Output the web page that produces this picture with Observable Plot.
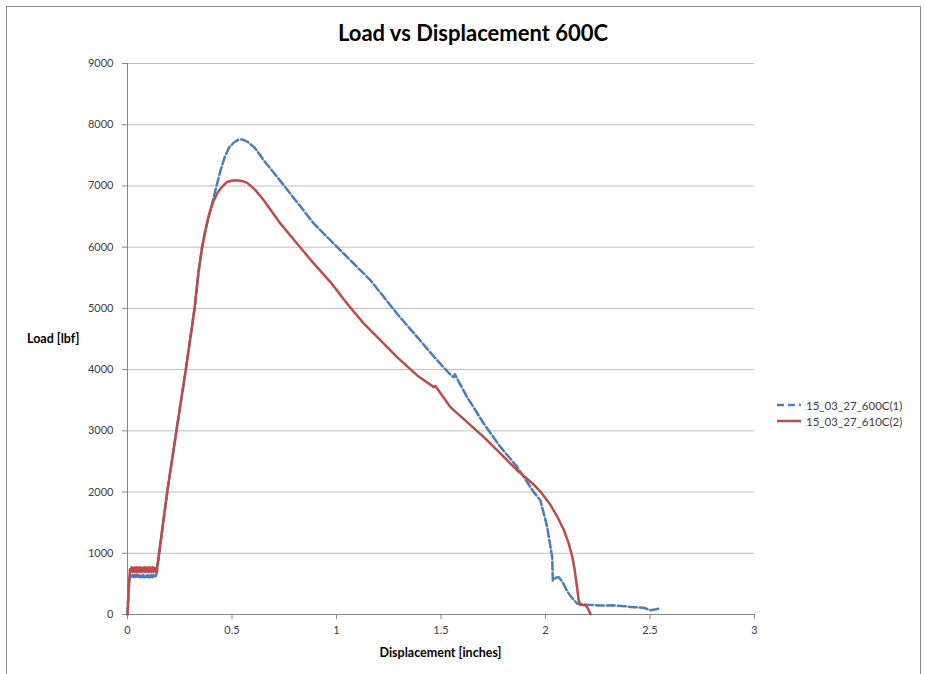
<!DOCTYPE html>
<html>
<head>
<meta charset="utf-8">
<script src="https://cdn.jsdelivr.net/npm/d3@7"></script>
<script src="https://cdn.jsdelivr.net/npm/@observablehq/plot@0.6"></script>
<style>
  html, body { margin: 0; padding: 0; background: #fff; }
  #wrap { position: relative; width: 925px; height: 674px; overflow: hidden; font-family: Lato, "Open Sans", sans-serif; }
  #frame { position: absolute; left: 6px; top: 6px; width: 913px; height: 700px; border: 1px solid #8c8c8c; pointer-events: none; }
  #title { position: absolute; left: 0; width: 946px; top: 19px; text-align: center; font-size: 22px; font-weight: 700; color: #000; }
  #ylab { position: absolute; left: 27px; top: 331px; font-size: 12.5px; font-weight: 700; color: #000; }
  #xlab { position: absolute; left: 127px; width: 627px; top: 645px; text-align: center; font-size: 12.5px; font-weight: 700; color: #000; }
  #legend { position: absolute; left: 777px; top: 397px; font-size: 11.5px; color: #404040; }
  .li { display: flex; align-items: center; height: 16px; }
  .li svg { margin-right: 5px; }
</style>
</head>
<body>
<div id="wrap">
  <div id="chart"></div>
  <div id="frame"></div>
  <div id="title">Load vs Displacement 600C</div>
  <div id="ylab">Load [lbf]</div>
  <div id="xlab">Displacement [inches]</div>
  <div id="legend"></div>
</div>
<script>
// Series names
const seriesNames = ["15_03_27_600C(1)", "15_03_27_610C(2)"];
const seriesColors = ["#4A7EBB", "#BE4B48"];

// Series 1: 15_03_27_600C(1) (blue, dashed)
const disp600 = [0, 0.005, 0.01, 0.015, 0.02, 0.025, 0.03, 0.035, 0.04, 0.045, 0.05, 0.055, 0.06, 0.065, 0.07,
  0.075, 0.08, 0.085, 0.09, 0.095, 0.10, 0.105, 0.11, 0.115, 0.12, 0.125, 0.13, 0.135,
  0.14, 0.19, 0.234, 0.279, 0.321, 0.34, 0.357, 0.372, 0.386, 0.40, 0.425, 0.445, 0.465, 0.485, 0.509,
  0.53, 0.549, 0.575, 0.61, 0.652,
  0.748, 0.892, 1.019, 1.163, 1.29, 1.386, 1.482, 1.55, 1.561, 1.567, 1.577, 1.625, 1.705, 1.785, 1.865,
  1.944, 1.976, 2.008, 2.032, 2.035, 2.05, 2.064, 2.08, 2.104, 2.12, 2.152, 2.2, 2.263, 2.32, 2.38,
  2.422, 2.47, 2.502, 2.53, 2.545];
const load600 = [0, 350, 600, 640, 605, 645, 610, 650, 605, 645, 612, 648, 606, 644, 610,
  650, 607, 645, 612, 648, 606, 644, 610, 650, 607, 642, 612, 625,
  680, 2000, 3000, 4000, 5000, 5600, 6000, 6260, 6470, 6640, 6990, 7250, 7470, 7620, 7710,
  7755, 7760, 7720, 7620, 7418,
  7010, 6383, 5948, 5458, 4913, 4532, 4150, 3900, 3878, 3925, 3850, 3551, 3116, 2734, 2407,
  1999, 1863, 1427, 936, 556, 600, 610, 540, 380, 300, 175, 160, 147, 150, 135,
  120, 110, 70, 85, 100];

// Series 2: 15_03_27_610C(2) (red, solid)
const disp610 = [0, 0.005, 0.012, 0.015, 0.02, 0.025, 0.03, 0.035, 0.04, 0.045, 0.05, 0.055, 0.06, 0.065, 0.07,
  0.075, 0.08, 0.085, 0.09, 0.095, 0.10, 0.105, 0.11, 0.115, 0.12, 0.125, 0.13, 0.135, 0.139,
  0.19, 0.234, 0.279, 0.321, 0.34, 0.357, 0.372, 0.386, 0.40, 0.413, 0.43, 0.445, 0.462, 0.477, 0.497, 0.517,
  0.55, 0.573, 0.61, 0.652, 0.732,
  0.812, 0.892, 0.971, 1.051, 1.131, 1.211, 1.29, 1.386, 1.466, 1.472, 1.48, 1.545, 1.705, 1.785,
  1.865, 1.905, 1.944, 1.98, 2.02, 2.056, 2.088, 2.11, 2.128, 2.14, 2.15, 2.159, 2.165, 2.19, 2.2, 2.215];
const load610 = [0, 400, 740, 700, 770, 695, 765, 700, 772, 692, 768, 700, 770, 690, 765,
  702, 772, 692, 766, 700, 770, 694, 768, 700, 772, 695, 762, 705, 700,
  2000, 3000, 4000, 5000, 5600, 6000, 6260, 6480, 6640, 6765, 6880, 6956, 7020, 7064, 7085, 7092,
  7080, 7050, 6940, 6765, 6384,
  6057, 5730, 5430, 5077, 4750, 4477, 4204, 3905, 3714, 3735, 3700, 3387, 2897, 2626,
  2353, 2240, 2120, 1990, 1810, 1600, 1380, 1170, 950, 720, 470, 229, 160, 150, 120, 10];

// Axis ticks
const xTicks = [0, 0.5, 1, 1.5, 2, 2.5, 3];
const yTicks = [0, 1000, 2000, 3000, 4000, 5000, 6000, 7000, 8000, 9000];

const s1 = disp600.map((x, i) => ({x, y: load600[i]}));
const s2 = disp610.map((x, i) => ({x, y: load610[i]}));

const chart = Plot.plot({
  width: 925,
  height: 674,
  marginLeft: 127,
  marginRight: 171,
  marginTop: 63,
  marginBottom: 60,
  style: {fontFamily: "Lato, 'Open Sans', sans-serif", fontSize: "11px", color: "#404040", background: "transparent"},
  x: {domain: [0, 3]},
  y: {domain: [0, 9000]},
  marks: [
    Plot.gridY(yTicks, {stroke: "#bfbfbf", strokeOpacity: 1, strokeWidth: 1}),
    Plot.ruleX([0], {stroke: "#868686", strokeWidth: 1}),
    Plot.ruleY([0], {stroke: "#868686", strokeWidth: 1}),
    Plot.axisX(xTicks, {tickSize: 5, tickPadding: 7, stroke: "#868686", fill: "#404040", label: null, tickFormat: d => String(d)}),
    Plot.axisY(yTicks, {tickSize: 5, tickPadding: 9, stroke: "#868686", fill: "#404040", label: null, tickFormat: d => String(d)}),
    Plot.line(s1, {x: "x", y: "y", stroke: seriesColors[0], strokeWidth: 2.5, strokeDasharray: "8,3", curve: "linear"}),
    Plot.line(s2, {x: "x", y: "y", stroke: seriesColors[1], strokeWidth: 2.5, curve: "linear"})
  ]
});
document.getElementById("chart").appendChild(chart);

const legend = document.getElementById("legend");
seriesNames.forEach((name, i) => {
  const row = document.createElement("div");
  row.className = "li";
  row.innerHTML = `<svg width="24" height="6"><line x1="0" y1="3" x2="24" y2="3" stroke="${seriesColors[i]}" stroke-width="2.5" ${i === 0 ? 'stroke-dasharray="7,4"' : ''}/></svg><span>${name}</span>`;
  legend.appendChild(row);
});
</script>
</body>
</html>
